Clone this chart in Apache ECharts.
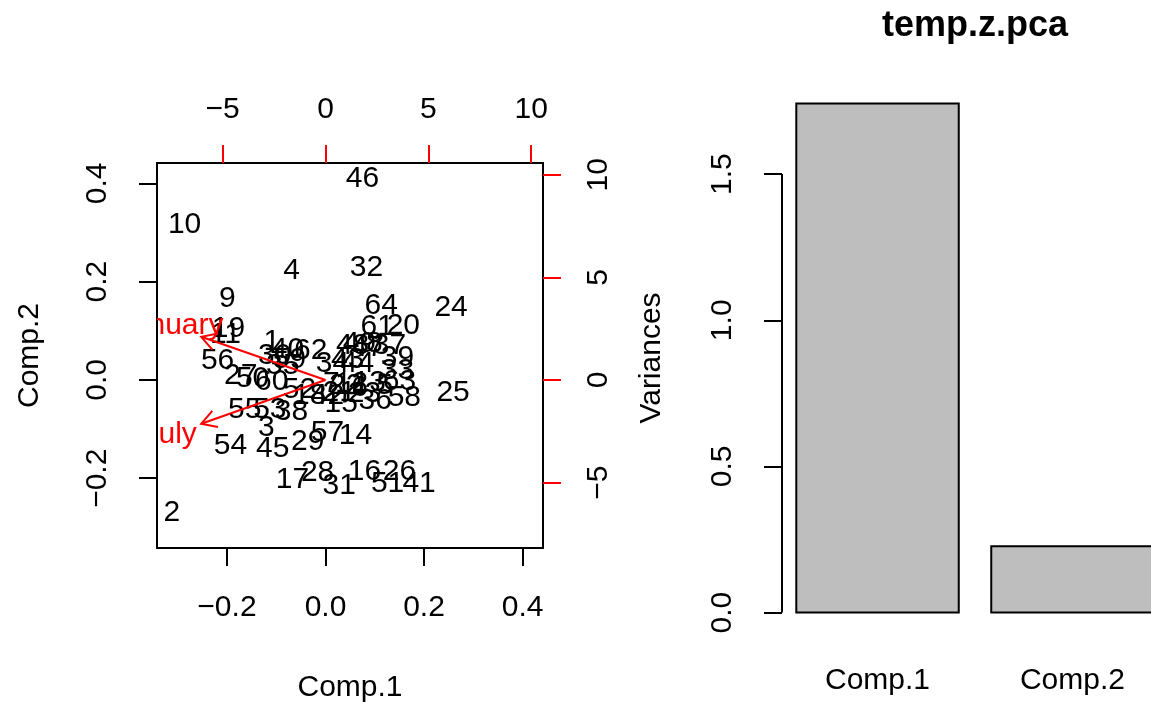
<!DOCTYPE html>
<html>
<head>
<meta charset="utf-8">
<script src="https://cdn.jsdelivr.net/npm/echarts@6/dist/echarts.min.js"></script>
<style>
html, body { margin: 0; padding: 0; background: #fff; }
#main { width: 1151px; height: 702px; }
</style>
</head>
<body>
<div id="main"></div>
<script>
// scores on the first two components, one per station
var stations = ['1','2','3','4','5','6','7','8','9','10','11','12','13','14','15','16',
  '17','18','19','20','21','22','23','24','25','26','27','28','29','30','31','32',
  '33','34','35','36','37','38','39','40','41','42','43','44','45','46','47','48',
  '49','50','51','52','53','54','55','56','57','58','59','60','61','62','63','64'];
var comp1 = [-0.109, -0.312, -0.120, -0.069, 0.120, 0.069, 0.012, 0.099, -0.199, -0.286, -0.203, 0.053, 0.089, 0.061, 0.032, 0.079,
  -0.067, -0.032, -0.197, 0.158, 0.028, 0.041, 0.079, 0.255, 0.259, 0.150, -0.172, -0.016, -0.036, -0.103, 0.028, 0.083,
  0.146, 0.014, -0.087, 0.101, 0.130, -0.069, 0.146, -0.077, 0.190, 0.004, 0.045, 0.065, -0.107, 0.075, 0.085, 0.055,
  0.069, -0.148, 0.126, -0.053, -0.113, -0.193, -0.164, -0.219, 0.004, 0.160, -0.073, -0.109, 0.105, -0.030, 0.150, 0.113];
var comp2 = [0.077, -0.270, -0.097, 0.223, -0.012, -0.016, -0.008, 0.073, 0.166, 0.316, 0.093, -0.008, -0.006, -0.114, -0.049, -0.187,
  -0.203, -0.032, 0.105, 0.110, -0.026, -0.012, -0.028, 0.146, -0.026, -0.187, 0.008, -0.189, -0.126, 0.049, -0.215, 0.229,
  0.018, 0.032, 0.028, -0.043, 0.069, -0.065, 0.045, 0.061, -0.211, -0.032, 0.041, 0.032, -0.140, 0.410, 0.065, 0.069,
  0.073, 0.002, -0.211, -0.020, -0.061, -0.134, -0.061, 0.039, -0.108, -0.037, 0.041, -0.004, 0.108, 0.059, -0.004, 0.152];

// loadings of the two variables (top / right axes)
var varNames = ['January', 'July'];
var load1 = [-7.55, -7.55];
var load2 = [2.63, -2.67];

// screeplot
var compNames = ['Comp.1', 'Comp.2'];
var variances = [1.742, 0.227];

var scoreTicks = [-0.2, 0, 0.2, 0.4];
var loadTicks = [-5, 0, 5, 10];
var varTicks = [0, 0.5, 1, 1.5];

var FONT = '"Liberation Sans", Arial, sans-serif';
var scoreLim = [-0.342, 0.4415];
var loadLim = [-8.19, 10.575];
var barXLim = [0.112, 2.488];
var barYLim = [-0.0697, 1.8117];

function minus(s) { return String(s).replace('-', '\u2212'); }

var labelStyle = { color: '#000', fontSize: 30, fontFamily: FONT };
var blackLine = { show: true, onZero: false, lineStyle: { color: '#000', width: 2 } };

function ticks(values, color) {
    return { show: true, length: 18, customValues: values, lineStyle: { color: color, width: 2 } };
}

var myChart = echarts.init(document.getElementById('main'));

myChart.setOption({
    animation: false,
    backgroundColor: '#fff',
    grid: [
        { left: 157, top: 163, width: 386, height: 385, outerBoundsMode: 'none', containLabel: false },
        { left: 782, top: 83, width: 386, height: 550, outerBoundsMode: 'none', containLabel: false }
    ],
    graphic: [{
        type: 'text', x: 975, y: 26,
        style: { text: 'temp.z.pca', font: 'bold 36px ' + FONT, fill: '#000', align: 'center', verticalAlign: 'middle' }
    }],
    xAxis: [
        {
            gridIndex: 0, type: 'value', position: 'bottom', min: scoreLim[0], max: scoreLim[1],
            axisLine: blackLine, axisTick: ticks(scoreTicks, '#000'), splitLine: { show: false },
            axisLabel: Object.assign({ customValues: scoreTicks, margin: 45, formatter: function (v) { return minus(v.toFixed(1)); } }, labelStyle),
            name: 'Comp.1', nameLocation: 'middle', nameGap: 125, nameTextStyle: labelStyle
        },
        {
            gridIndex: 0, type: 'value', position: 'top', min: loadLim[0], max: loadLim[1],
            axisLine: blackLine, axisTick: ticks(loadTicks, '#ff0000'), splitLine: { show: false },
            axisLabel: Object.assign({ customValues: loadTicks, margin: 38, formatter: function (v) { return minus(v); } }, labelStyle)
        },
        {
            gridIndex: 1, type: 'value', position: 'bottom', min: barXLim[0], max: barXLim[1],
            axisLine: { show: false }, axisTick: { show: false }, splitLine: { show: false },
            axisLabel: Object.assign({ customValues: [0.7, 1.9], margin: 33, formatter: function (v) { return compNames[Math.round((v - 0.7) / 1.2)]; } }, labelStyle)
        }
    ],
    yAxis: [
        {
            gridIndex: 0, type: 'value', position: 'left', min: scoreLim[0], max: scoreLim[1],
            axisLine: blackLine, axisTick: ticks(scoreTicks, '#000'), splitLine: { show: false },
            axisLabel: Object.assign({ customValues: scoreTicks, margin: 44, rotate: 90, formatter: function (v) { return minus(v.toFixed(1)); } }, labelStyle),
            name: 'Comp.2', nameLocation: 'middle', nameGap: 112, nameRotate: 90, nameTextStyle: labelStyle
        },
        {
            gridIndex: 0, type: 'value', position: 'right', min: loadLim[0], max: loadLim[1],
            axisLine: blackLine, axisTick: ticks(loadTicks, '#ff0000'), splitLine: { show: false },
            axisLabel: Object.assign({ customValues: loadTicks, margin: 41, rotate: 90, formatter: function (v) { return minus(v); } }, labelStyle)
        },
        {
            gridIndex: 1, type: 'value', position: 'left', min: barYLim[0], max: barYLim[1],
            axisLine: { show: false }, axisTick: ticks(varTicks, '#000'), splitLine: { show: false },
            axisLabel: Object.assign({ customValues: varTicks, margin: 44, rotate: 90, formatter: function (v) { return v.toFixed(1); } }, labelStyle),
            name: 'Variances', nameLocation: 'middle', nameGap: 115, nameRotate: 90, nameTextStyle: labelStyle
        }
    ],
    series: [
        {
            // station labels
            type: 'custom', xAxisIndex: 0, yAxisIndex: 0, clip: true,
            data: comp1.map(function (v, i) { return [v, comp2[i]]; }),
            renderItem: function (params, api) {
                var p = api.coord([api.value(0), api.value(1)]);
                return {
                    type: 'text', x: p[0], y: p[1],
                    style: { text: stations[params.dataIndex], font: '30px ' + FONT, fill: '#000', align: 'center', verticalAlign: 'middle' }
                };
            }
        },
        {
            // variable arrows (drawn at 0.8 of the loading, label at the loading)
            type: 'custom', xAxisIndex: 1, yAxisIndex: 1, clip: true,
            data: load1.map(function (v, i) { return [v, load2[i]]; }),
            renderItem: function (params, api) {
                var x = api.value(0), y = api.value(1);
                var o = api.coord([0, 0]);
                var t = api.coord([0.8 * x, 0.8 * y]);
                var l = api.coord([x, y]);
                var a = Math.atan2(t[1] - o[1], t[0] - o[0]);
                var len = 17, da = Math.PI / 6;
                var red = { stroke: '#ff0000', lineWidth: 2 };
                return {
                    type: 'group',
                    children: [
                        { type: 'line', shape: { x1: o[0], y1: o[1], x2: t[0], y2: t[1] }, style: red },
                        { type: 'polyline', shape: { points: [
                            [t[0] - len * Math.cos(a - da), t[1] - len * Math.sin(a - da)],
                            t,
                            [t[0] - len * Math.cos(a + da), t[1] - len * Math.sin(a + da)]
                        ] }, style: Object.assign({ fill: null }, red) },
                        { type: 'text', x: l[0], y: l[1],
                          style: { text: varNames[params.dataIndex], font: '30px ' + FONT, fill: '#ff0000', align: 'center', verticalAlign: 'middle' } }
                    ]
                };
            }
        },
        {
            // screeplot bars
            type: 'custom', xAxisIndex: 2, yAxisIndex: 2, clip: false,
            data: variances.map(function (v, i) { return [i, v]; }),
            renderItem: function (params, api) {
                var i = api.value(0);
                var x0 = 0.2 + i * 1.2;
                var p0 = api.coord([x0, 0]);
                var p1 = api.coord([x0 + 1, api.value(1)]);
                return {
                    type: 'rect',
                    shape: { x: p0[0], y: p1[1], width: p1[0] - p0[0], height: p0[1] - p1[1] },
                    style: { fill: '#bebebe', stroke: '#000', lineWidth: 2 }
                };
            }
        },
        {
            // R draws the y axis line only between the first and last tick
            type: 'line', xAxisIndex: 2, yAxisIndex: 2, symbol: 'none', silent: true,
            data: [[barXLim[0], varTicks[0]], [barXLim[0], varTicks[varTicks.length - 1]]],
            lineStyle: { color: '#000', width: 2 }
        }
    ]
});
</script>
</body>
</html>
